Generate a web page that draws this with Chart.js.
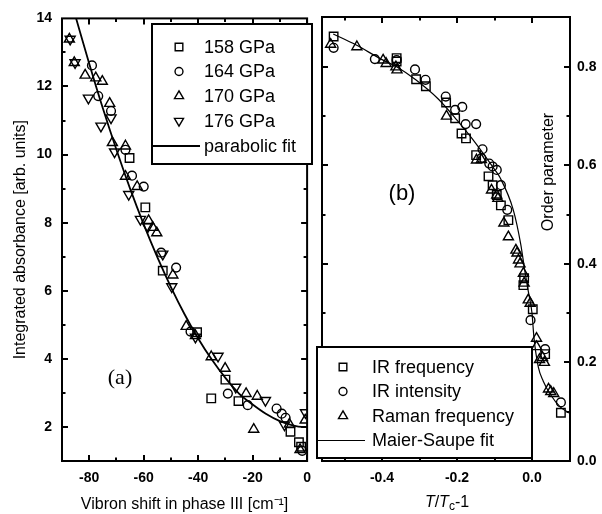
<!DOCTYPE html>
<html>
<head>
<meta charset="utf-8">
<script src="https://cdn.jsdelivr.net/npm/chart.js@4.4.1/dist/chart.umd.min.js"></script>
<style>
  body { margin: 0; background: #fff; }
  #wrap { position: relative; width: 602px; height: 514px; overflow: hidden; }
  canvas { position: absolute; top: 0; }
  #chartA { left: 0; }
  #chartB { left: 300px; }
</style>
</head>
<body>
<div id="wrap">
  <canvas id="chartA" width="320" height="514"></canvas>
  <canvas id="chartB" width="302" height="514"></canvas>
</div>
<script>
// ---------- panel (a): integrated absorbance vs vibron shift ----------
const shift158  = [-65.2, -59.4, -53.0, -40.4, -35.2, -30.0, -25.2, -6.1, -3.0, -2.2];
const absorb158 = [9.90, 8.45, 6.59, 4.78, 2.84, 3.39, 2.76, 1.86, 1.55, 1.42];

const shift164  = [-79.0, -76.7, -72.0, -66.7, -64.3, -60.0, -53.6, -48.1, -42.8, -29.1, -21.8, -11.2, -9.3, -7.9, -1.8];
const absorb164 = [12.62, 11.72, 11.28, 10.14, 9.38, 9.06, 7.12, 6.68, 4.80, 2.98, 2.64, 2.54, 2.39, 2.27, 1.30];

const shift170  = [-87.3, -85.5, -81.5, -77.6, -75.2, -72.5, -71.5, -66.7, -66.7, -62.4, -58.2, -56.7, -55.2, -49.3, -44.4, -41.0, -35.2, -30.1, -22.4, -19.6, -18.3, -6.5, -2.6, -0.7];
const absorb170 = [13.39, 12.70, 12.33, 12.25, 12.15, 11.50, 10.35, 10.25, 9.36, 9.06, 8.06, 7.86, 7.70, 6.46, 4.95, 4.68, 4.06, 3.72, 2.98, 1.93, 2.90, 2.08, 1.33, 2.20];

const shift176  = [-87.0, -85.2, -80.3, -75.7, -72.0, -70.7, -65.5, -61.2, -58.5, -53.0, -49.7, -41.0, -32.7, -26.2, -15.3, -8.3, -0.6];
const absorb176 = [13.39, 12.70, 11.66, 10.84, 11.08, 10.08, 8.83, 8.10, 7.88, 7.08, 6.12, 4.64, 4.08, 3.17, 2.78, 2.06, 2.42];

const fitShift  = [-85, -80, -75, -70, -65, -60, -55, -50, -45, -40, -35, -30, -25, -20, -15, -10, -5, -2, 0];
const fitAbsorb = [14.05, 12.67, 11.36, 10.14, 9.00, 7.95, 6.99, 6.11, 5.31, 4.60, 3.98, 3.44, 2.98, 2.66, 2.38, 2.17, 2.04, 2.00, 2.00];

const aXLabels = [-80, -60, -40, -20, 0];
const aYLabels = [2, 4, 6, 8, 10, 12, 14];
const aLegend = ['158 GPa', '164 GPa', '170 GPa', '176 GPa', 'parabolic fit'];

// ---------- panel (b): order parameter vs T/Tc-1 ----------
const irFreqT = [-0.529, -0.361, -0.361, -0.309, -0.283, -0.229, -0.205, -0.188, -0.176, -0.149, -0.116, -0.105, -0.094, -0.083, -0.063, -0.023, -0.021, 0.002, 0.035, 0.077];
const irFreqS = [0.862, 0.818, 0.811, 0.775, 0.761, 0.728, 0.696, 0.665, 0.655, 0.621, 0.578, 0.560, 0.540, 0.519, 0.489, 0.357, 0.371, 0.308, 0.217, 0.098];

const irIntT = [-0.529, -0.419, -0.361, -0.312, -0.284, -0.230, -0.205, -0.186, -0.177, -0.149, -0.132, -0.135, -0.114, -0.105, -0.094, -0.083, -0.066, -0.004, 0.035, 0.077];
const irIntS = [0.839, 0.816, 0.814, 0.795, 0.774, 0.740, 0.713, 0.719, 0.684, 0.684, 0.633, 0.615, 0.604, 0.598, 0.591, 0.560, 0.510, 0.286, 0.227, 0.119];

const ramanT = [-0.537, -0.467, -0.397, -0.389, -0.363, -0.360, -0.228, -0.148, -0.135, -0.108, -0.094, -0.091, -0.075, -0.063, -0.043, -0.040, -0.036, -0.032, -0.023, -0.021, -0.010, -0.005, 0.012, 0.012, 0.020, 0.028, 0.033, 0.044, 0.050, 0.058];
const ramanS = [0.846, 0.841, 0.814, 0.807, 0.800, 0.794, 0.700, 0.611, 0.612, 0.550, 0.540, 0.533, 0.483, 0.455, 0.428, 0.422, 0.408, 0.400, 0.381, 0.361, 0.327, 0.320, 0.249, 0.232, 0.206, 0.210, 0.200, 0.146, 0.141, 0.137];

const fitT = [-0.53, -0.47, -0.40, -0.36, -0.31, -0.25, -0.20, -0.15, -0.10, -0.085, -0.05, -0.03, -0.02, -0.01, 0.0, 0.005, 0.017, 0.03, 0.05, 0.075, 0.1];
const fitS = [0.867, 0.845, 0.815, 0.800, 0.774, 0.735, 0.692, 0.645, 0.592, 0.575, 0.510, 0.440, 0.390, 0.345, 0.300, 0.252, 0.190, 0.162, 0.134, 0.110, 0.097];

const bXLabels = [-0.4, -0.2, 0.0];
const bYLabels = [0.0, 0.2, 0.4, 0.6, 0.8];
const bLegend = ['IR frequency', 'IR intensity', 'Raman frequency', 'Maier-Saupe fit'];

const pairs = (xs, ys) => xs.map((x, i) => ({ x: x, y: ys[i] }));

const SANS = 'Liberation Sans, Arial, Helvetica, sans-serif';
const tickFont = { family: SANS, size: 14, weight: 'bold' };

const square = { pointStyle: 'rect', rotation: 0, radius: 6 };
const circle = { pointStyle: 'circle', rotation: 0, radius: 4.4 };
const triUp = { pointStyle: 'triangle', rotation: 0, radius: 5.8 };
const triDown = { pointStyle: 'triangle', rotation: 180, radius: 5.8 };
const legendScale = 0.9;

function markerSet(label, data, m) {
    return {
        label: label,
        data: data,
        pointStyle: m.pointStyle,
        rotation: m.rotation,
        pointRadius: m.radius,
        borderColor: '#000',
        backgroundColor: 'rgba(0,0,0,0)',
        borderWidth: 1.4,
        showLine: false
    };
}

function fitSet(label, data, width) {
    return {
        type: 'line',
        label: label,
        data: data,
        borderColor: '#000',
        borderWidth: width,
        pointRadius: 0,
        fill: false,
        cubicInterpolationMode: 'monotone'
    };
}

function drawMarker(ctx, m, x, y) {
    ctx.save();
    ctx.strokeStyle = '#000';
    ctx.fillStyle = 'rgba(0,0,0,0)';
    ctx.lineWidth = 1.4;
    Chart.helpers.drawPoint(ctx, { pointStyle: m.pointStyle, rotation: m.rotation, radius: m.radius * legendScale, borderWidth: 1.4 }, x, y);
    ctx.restore();
}

// frame, inward ticks, legend box and free texts of one panel
function panelDecor(cfg) {
    return {
        id: 'panelDecor',
        afterDatasetsDraw(chart) {
            const ctx = chart.ctx, a = chart.chartArea;
            const xs = chart.scales.x, ys = chart.scales.y;
            ctx.save();
            ctx.strokeStyle = '#000';
            ctx.lineWidth = 2;
            ctx.strokeRect(a.left, a.top, a.right - a.left, a.bottom - a.top);

            ctx.beginPath();
            for (let i = 0; i <= cfg.xN; i++) {
                const v = cfg.xFrom + i * cfg.xStep;
                const px = Math.round(xs.getPixelForValue(v));
                const len = (i % 2 === cfg.xMajorOdd) ? 6 : 3.5;
                ctx.moveTo(px, a.bottom); ctx.lineTo(px, a.bottom - len);
                ctx.moveTo(px, a.top); ctx.lineTo(px, a.top + len);
            }
            for (let i = 0; i <= cfg.yN; i++) {
                const v = cfg.yFrom + i * cfg.yStep;
                const py = Math.round(ys.getPixelForValue(v));
                const len = (i % 2 === cfg.yMajorOdd) ? 6 : 3.5;
                ctx.moveTo(a.left, py); ctx.lineTo(a.left + len, py);
                ctx.moveTo(a.right, py); ctx.lineTo(a.right - len, py);
            }
            ctx.stroke();

            // legend
            const L = cfg.legend;
            ctx.fillStyle = '#fff';
            ctx.fillRect(L.x, L.y, L.w, L.h);
            ctx.lineWidth = 2;
            ctx.strokeRect(L.x, L.y, L.w, L.h);
            ctx.font = '18px ' + SANS;
            ctx.fillStyle = '#000';
            ctx.textBaseline = 'middle';
            ctx.textAlign = 'left';
            L.labels.forEach((txt, i) => {
                const y = L.rowY[i];
                const m = L.markers[i];
                if (m) {
                    drawMarker(ctx, m, L.markX, y);
                } else {
                    ctx.lineWidth = L.lineW;
                    ctx.beginPath();
                    ctx.moveTo(L.lineX0, y); ctx.lineTo(L.lineX1, y);
                    ctx.stroke();
                }
                ctx.fillText(txt, L.textX, y + 1);
            });

            cfg.extra(ctx);
            ctx.restore();
        }
    };
}

const baseOptions = (padding) => ({
    responsive: false,
    animation: false,
    events: [],
    layout: { padding: padding },
    plugins: { legend: { display: false }, tooltip: { enabled: false } }
});

const noGrid = { display: false, drawTicks: false };

// ---------------- chart (a) ----------------
const optsA = baseOptions({ left: 0, right: 10, top: 17, bottom: 0 });
optsA.scales = {
    x: {
        type: 'linear', min: -90, max: 0,
        grid: noGrid, border: { display: false },
        afterBuildTicks: s => { s.ticks = aXLabels.map(v => ({ value: v })); },
        afterFit: s => { s.height = 53; },
        ticks: { font: tickFont, color: '#000', padding: 9, maxRotation: 0, callback: v => String(v) },
        title: { display: true, text: 'Vibron shift in phase III [cm\u207B\u00B9]', color: '#000',
                 font: { family: SANS, size: 16 }, padding: { top: 0, bottom: 0 } }
    },
    y: {
        type: 'linear', min: 1, max: 14,
        grid: noGrid, border: { display: false },
        afterBuildTicks: s => { s.ticks = aYLabels.map(v => ({ value: v })); },
        afterFit: s => { s.width = 62; },
        ticks: { font: tickFont, color: '#000', padding: 10, callback: v => String(v) },
        title: { display: true, text: 'Integrated absorbance [arb. units]', color: '#000',
                 font: { family: SANS, size: 16 }, padding: { top: 11, bottom: 0 } }
    }
};

new Chart(document.getElementById('chartA'), {
    type: 'scatter',
    data: {
        datasets: [
            fitSet('parabolic fit', pairs(fitShift, fitAbsorb), 1.8),
            markerSet('158 GPa', pairs(shift158, absorb158), square),
            markerSet('164 GPa', pairs(shift164, absorb164), circle),
            markerSet('170 GPa', pairs(shift170, absorb170), triUp),
            markerSet('176 GPa', pairs(shift176, absorb176), triDown)
        ]
    },
    options: optsA,
    plugins: [panelDecor({
        xFrom: -80, xStep: 10, xN: 8, xMajorOdd: 0,
        yFrom: 2, yStep: 1, yN: 11, yMajorOdd: 0,
        legend: {
            x: 152, y: 24, w: 160, h: 140,
            labels: aLegend,
            markers: [square, circle, triUp, triDown, null],
            rowY: [47, 71.5, 96, 121, 146],
            markX: 179, textX: 204, lineX0: 153, lineX1: 200, lineW: 1.8
        },
        extra: ctx => {
            ctx.font = '22px Liberation Serif, Times New Roman, serif';
            ctx.textAlign = 'center';
            ctx.textBaseline = 'middle';
            ctx.fillText('(a)', 120, 378);
        }
    })]
});

// ---------------- chart (b) ----------------
const optsB = baseOptions({ left: 22, right: 0, top: 17, bottom: 0 });
optsB.scales = {
    x: {
        type: 'linear', min: -0.56, max: 0.1013,
        grid: noGrid, border: { display: false },
        afterBuildTicks: s => { s.ticks = bXLabels.map(v => ({ value: v })); },
        afterFit: s => { s.height = 53; },
        ticks: { font: tickFont, color: '#000', padding: 9, maxRotation: 0, callback: v => v.toFixed(1) }
    },
    y: {
        type: 'linear', position: 'right', min: 0, max: 0.9015,
        grid: noGrid, border: { display: false },
        afterBuildTicks: s => { s.ticks = bYLabels.map(v => ({ value: v })); },
        afterFit: s => { s.width = 32; },
        ticks: { font: tickFont, color: '#000', padding: 7, callback: v => v.toFixed(1) }
    }
};

new Chart(document.getElementById('chartB'), {
    type: 'scatter',
    data: {
        datasets: [
            fitSet('Maier-Saupe fit', pairs(fitT, fitS), 1.2),
            markerSet('IR frequency', pairs(irFreqT, irFreqS), square),
            markerSet('IR intensity', pairs(irIntT, irIntS), circle),
            markerSet('Raman frequency', pairs(ramanT, ramanS), triUp)
        ]
    },
    options: optsB,
    plugins: [panelDecor({
        xFrom: -0.5, xStep: 0.1, xN: 5, xMajorOdd: 1,
        yFrom: 0.1, yStep: 0.1, yN: 7, yMajorOdd: 1,
        legend: {
            x: 17, y: 347, w: 215, h: 111,
            labels: bLegend,
            markers: [square, circle, triUp, null],
            rowY: [367, 391.5, 416, 440.5],
            markX: 43, textX: 72, lineX0: 18, lineX1: 65, lineW: 1.2
        },
        extra: ctx => {
            ctx.fillStyle = '#000';
            ctx.textBaseline = 'middle';
            ctx.textAlign = 'center';
            ctx.font = '22px ' + SANS;
            ctx.fillText('(b)', 102, 194);

            ctx.save();
            ctx.translate(249, 172);
            ctx.rotate(-Math.PI / 2);
            ctx.font = '16px ' + SANS;
            ctx.fillText('Order parameter', 0, 0);
            ctx.restore();

            // T/Tc-1 with italic T and subscript c
            const it = 'italic 16px ' + SANS, rg = '16px ' + SANS, sub = '12px ' + SANS;
            const parts = [['T', it, 0], ['/', rg, 0], ['T', it, 0], ['c', sub, 4], ['-1', rg, 0]];
            let w = 0;
            parts.forEach(p => { ctx.font = p[1]; w += ctx.measureText(p[0]).width; });
            let x = 147 - w / 2;
            ctx.textAlign = 'left';
            parts.forEach(p => {
                ctx.font = p[1];
                ctx.fillText(p[0], x, 503 + p[2]);
                x += ctx.measureText(p[0]).width;
            });
        }
    })]
});
</script>
</body>
</html>
